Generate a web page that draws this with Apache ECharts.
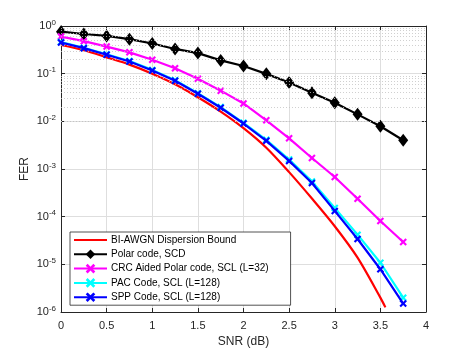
<!DOCTYPE html>
<html>
<head>
<meta charset="utf-8">
<script src="https://cdn.jsdelivr.net/npm/echarts@6/dist/echarts.min.js"></script>
<style>html,body{margin:0;padding:0;background:#fff;}#c{width:471px;height:353px;}</style>
</head>
<body>
<div id="c"></div>
<script>
const snr = [0,0.25,0.5,0.75,1,1.25,1.5,1.75,2,2.25,2.5,2.75,3,3.25,3.5,3.75];
const polarSCD = [0.76,0.68,0.62,0.53,0.43,0.33,0.27,0.19,0.145,0.099,0.065,0.040,0.0245,0.014,0.0079,0.0040];
const crcSCL32 = [0.60,0.48,0.37,0.28,0.196,0.13,0.078,0.044,0.0237,0.0105,0.0044,0.0017,6.8e-4,2.37e-4,8.1e-5,2.95e-5];
const pacSCL128 = [0.46,0.35,0.255,0.184,0.12,0.073,0.039,0.0199,0.0093,0.0041,0.00158,5.5e-4,1.52e-4,4.2e-5,1.08e-5,2.0e-6];
const sppSCL128 = [0.45,0.343,0.249,0.18,0.117,0.071,0.038,0.0193,0.0090,0.0039,0.00148,5.1e-4,1.32e-4,3.4e-5,7.9e-6,1.5e-6];
const boundSnr = [0,0.25,0.5,0.75,1,1.25,1.5,1.75,2,2.25,2.5,2.75,3,3.25,3.5,3.555];
const boundFer = [0.40,0.31,0.22,0.155,0.10,0.060,0.032,0.016,0.0072,0.0028,8.6e-4,2.4e-4,6.3e-5,1.38e-5,2.0e-6,1.25e-6];
const seriesNames = ['BI-AWGN Dispersion Bound','Polar code, SCD','CRC Aided Polar code, SCL (L=32)','PAC Code, SCL (L=128)','SPP Code, SCL (L=128)'];
const xTicks = {min:0, max:4, interval:0.5};
const yRange = {min:1e-6, max:1};

const pairs = (xs, ys) => xs.map((x,i)=>[x, ys[i]]);
const minorVals = [];
for (let e=-6; e<0; e++) for (let m=2; m<=9; m++) minorVals.push(m*Math.pow(10,e));

const FONT = '"Liberation Sans", Arial, Helvetica, sans-serif';
const AX = '#262626';
const xPath = 'path://M0,2 L2,0 L5,3 L8,0 L10,2 L7,5 L10,8 L8,10 L5,7 L2,10 L0,8 L3,5 Z';

const chart = echarts.init(document.getElementById('c'), null, {renderer:'canvas'});
const option = {
  animation:false,
  backgroundColor:'#fff',
  textStyle:{fontFamily:FONT},
  grid:{left:61, right:45, top:26, bottom:39, containLabel:false},
  xAxis:[{
    type:'value', min:xTicks.min, max:xTicks.max, interval:xTicks.interval,
    name:'SNR (dB)', nameLocation:'middle', nameGap:24, nameMoveOverlap:false,
    nameTextStyle:{fontSize:12, color:AX, fontFamily:FONT},
    axisLine:{show:true, onZero:false, lineStyle:{color:AX, width:1}},
    axisTick:{show:true, inside:true, length:4, lineStyle:{color:AX}},
    axisLabel:{fontSize:11, color:AX, margin:8, fontFamily:FONT},
    splitLine:{show:true, lineStyle:{color:'#dedede', width:1}}
  },{
    type:'value', position:'top', min:xTicks.min, max:xTicks.max, interval:xTicks.interval,
    axisLine:{show:true, onZero:false, lineStyle:{color:AX, width:1}},
    axisTick:{show:true, inside:true, length:4, lineStyle:{color:AX}},
    axisLabel:{show:false}, splitLine:{show:false}
  }],
  yAxis:[{
    type:'log', logBase:10, min:yRange.min, max:yRange.max, splitNumber:6,
    name:'FER', nameLocation:'middle', nameGap:30, nameMoveOverlap:false,
    nameTextStyle:{fontSize:12, color:AX, fontFamily:FONT},
    axisLine:{show:true, onZero:false, lineStyle:{color:AX, width:1}},
    axisTick:{show:true, inside:true, length:4, lineStyle:{color:AX}},
    axisLabel:{
      color:AX, margin:5, fontFamily:FONT,
      formatter:function(v){ const e=Math.round(Math.log10(v)); return '{b|10}{s|'+e+'}'; },
      rich:{ b:{fontSize:11, color:AX, fontFamily:FONT}, s:{fontSize:8, color:AX, fontFamily:FONT, padding:[0,0,7,0]} }
    },
    splitLine:{show:true, lineStyle:{color:'#dedede', width:1}}
  },{
    type:'log', logBase:10, min:yRange.min, max:yRange.max, splitNumber:6, position:'right',
    axisLine:{show:true, onZero:false, lineStyle:{color:AX, width:1}},
    axisTick:{show:true, inside:true, length:4, lineStyle:{color:AX}},
    axisLabel:{show:false}, splitLine:{show:false}
  }],
  legend:{
    orient:'vertical', left:70, top:232,
    data:[{name:seriesNames[0], itemStyle:{opacity:0}}, seriesNames[1], seriesNames[2], seriesNames[3], seriesNames[4]],
    backgroundColor:'#fff', borderColor:AX, borderWidth:0.8,
    padding:[3,22,3,3], itemGap:4.3, itemWidth:33, itemHeight:12,
    textStyle:{fontSize:10, color:'#000', fontFamily:FONT, padding:[0,0,0,-1]}
  },
  series:[
    {
      name:'minorgrid', type:'line', data:[], silent:true, z:0,
      markLine:{silent:true, symbol:'none', label:{show:false}, animation:false,
        lineStyle:{color:'#c4c4c4', type:[1,2], width:0.8},
        data:minorVals.map(v=>({yAxis:v}))}
    },
    {name:seriesNames[0], type:'line', data:pairs(boundSnr,boundFer), showSymbol:false, symbol:'none', smooth:0.3,
      lineStyle:{color:'#ff0000', width:2.2}, itemStyle:{color:'#ff0000'}, z:2},
    {name:seriesNames[1], type:'line', data:pairs(snr,polarSCD), symbol:'diamond', symbolSize:[10,13],
      lineStyle:{color:'#000', width:2.2}, itemStyle:{color:'#000'}, z:3},
    {name:seriesNames[2], type:'line', data:pairs(snr,crcSCL32), symbol:xPath, symbolSize:7.5,
      lineStyle:{color:'#ff00ff', width:2.2}, itemStyle:{color:'#ff00ff'}, z:4},
    {name:seriesNames[3], type:'line', data:pairs(snr,pacSCL128), symbol:xPath, symbolSize:7.5,
      lineStyle:{color:'#00ffff', width:2.2}, itemStyle:{color:'#00ffff'}, z:5},
    {name:seriesNames[4], type:'line', data:pairs(snr,sppSCL128), symbol:xPath, symbolSize:7.5,
      lineStyle:{color:'#0000ff', width:2.2}, itemStyle:{color:'#0000ff'}, z:6}
  ]
};
chart.setOption(option);
</script>
</body>
</html>
